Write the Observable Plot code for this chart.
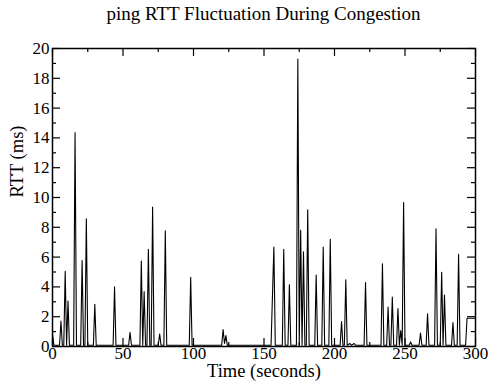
<!DOCTYPE html>
<html><head><meta charset="utf-8">
<script src="https://cdn.jsdelivr.net/npm/d3@7"></script>
<script src="https://cdn.jsdelivr.net/npm/@observablehq/plot@0.6"></script>
<style>
body{margin:0;background:#fff;}
#wrap{position:relative;width:489px;height:383px;overflow:hidden;background:#fff;}
#title{position:absolute;left:32px;top:4px;width:463px;text-align:center;font-family:"Liberation Serif",serif;font-size:19px;line-height:19px;color:#000;white-space:nowrap;}
#chart{position:absolute;left:0;top:30px;}
#chart svg, #chart svg text{font-family:"Liberation Serif",serif !important;}
</style>
</head><body>
<div id="wrap"><div id="title">ping RTT Fluctuation During Congestion</div><div id="chart"></div></div>
<script>
const times = [0,1,5,6,7,8,9,10,11,12,15,16,17,20,21,22,23,24,25,29,30,31,43,44,45,54,55,56,62,63,64,65,66,67,68,69,70,71,72,75,76,77,79,80,81,97,98,99,
  120,121,122,123,124,125,155,157,158,163,164,165,167,168,169,173,174,175,176,177,178,179,180,181,182,186,187,188,191,192,193,196,197,198,
  204,205,206,207,208,209,211,212,214,215,221,222,223,233,234,235,237,238,239,240,241,242,244,245,246,247,248,249,250,253,254,255,
  260,261,262,265,266,267,271,272,273,275,276,277,278,279,283,284,285,287,288,289,293,294,300];
const rtt = [0.85,0.08,0.08,1.7,0.08,0.08,5.05,0.08,3.05,0.08,0.08,14.36,0.08,0.08,5.77,0.08,0.08,8.57,0.08,0.08,2.84,0.08,0.08,4.0,0.08,0.08,0.95,0.08,0.08,5.73,0.08,3.68,0.08,0.08,6.52,0.08,0.08,9.36,0.08,0.08,0.84,0.08,0.08,7.77,0.08,0.08,4.64,0.08,
  0.08,1.14,0.2,0.73,0.08,0.08,0.08,6.68,0.08,0.08,6.52,0.08,0.08,4.14,0.08,0.08,19.3,0.08,7.8,0.08,6.36,0.08,0.08,9.18,0.08,0.08,4.8,0.08,0.08,6.68,0.08,0.08,7.2,0.08,
  0.08,1.68,0.08,0.08,4.48,0.08,0.2,0.08,0.2,0.08,0.08,4.3,0.08,0.08,5.55,0.08,0.08,2.64,0.08,0.08,3.32,0.08,0.08,2.55,0.08,1.07,0.08,9.66,0.08,0.08,0.3,0.08,
  0.08,0.9,0.08,0.08,2.2,0.08,0.08,7.9,0.08,0.08,4.98,0.08,3.45,0.08,0.08,1.6,0.08,0.08,6.18,0.08,0.08,1.9,1.9];
const xMajor = [0,50,100,150,200,250,300];
const xMinor = [25,75,125,175,225,275];
const yMajor = [0,2,4,6,8,10,12,14,16,18,20];
const yMinor = [1,3,5,7,9,11,13,15,17,19];
const xLabel = "Time (seconds)";
const yLabel = "RTT (ms)";

const data = times.map((t, i) => ({t, v: rtt[i]}));
const W = 489, H = 353, mL = 52, mR = 14, mT = 18, mB = 37;
const pw = W - mL - mR, ph = H - mT - mB;
const font = "Liberation Serif";
const chart = Plot.plot({
  width: W, height: H, marginLeft: mL, marginRight: mR, marginTop: mT, marginBottom: mB,
  x: {domain: [0, 300], axis: null},
  y: {domain: [0, 20], axis: null},
  style: {fontFamily: font, fontSize: "17px", background: "white", color: "black"},
  marks: [
    Plot.line(data, {x: "t", y: "v", stroke: "black", strokeWidth: 1.1}),
    Plot.text(xMajor, {x: d => d, text: d => String(d), frameAnchor: "bottom", lineAnchor: "top", dy: 0, fontSize: 17, fontFamily: font, fill: "black"}),
    Plot.text(yMajor, {y: d => d, text: d => String(d), frameAnchor: "left", textAnchor: "end", lineAnchor: "middle", dx: -3, fontSize: 17, fontFamily: font, fill: "black"}),
    Plot.tickX(xMajor, {x: d => d, insetTop: ph - 8, strokeWidth: 1.2}),
    Plot.tickX(xMajor, {x: d => d, insetBottom: ph - 8, strokeWidth: 1.2}),
    Plot.tickX(xMinor, {x: d => d, insetTop: ph - 4, strokeWidth: 1.2}),
    Plot.tickX(xMinor, {x: d => d, insetBottom: ph - 4, strokeWidth: 1.2}),
    Plot.tickY(yMajor, {y: d => d, insetRight: pw - 8, strokeWidth: 1.2}),
    Plot.tickY(yMajor, {y: d => d, insetLeft: pw - 8, strokeWidth: 1.2}),
    Plot.tickY(yMinor, {y: d => d, insetRight: pw - 4, strokeWidth: 1.2}),
    Plot.tickY(yMinor, {y: d => d, insetLeft: pw - 4, strokeWidth: 1.2}),
    Plot.frame({stroke: "black", strokeWidth: 1.5}),
    Plot.text([xLabel], {text: d => d, frameAnchor: "bottom", lineAnchor: "middle", dy: 25, fontSize: 18.5, fontFamily: font, fill: "black"}),
    Plot.text([yLabel], {text: d => d, frameAnchor: "left", lineAnchor: "middle", dx: -35, rotate: -90, fontSize: 18.5, fontFamily: font, fill: "black"})
  ]
});
document.getElementById("chart").appendChild(chart);
</script>
</body></html>
